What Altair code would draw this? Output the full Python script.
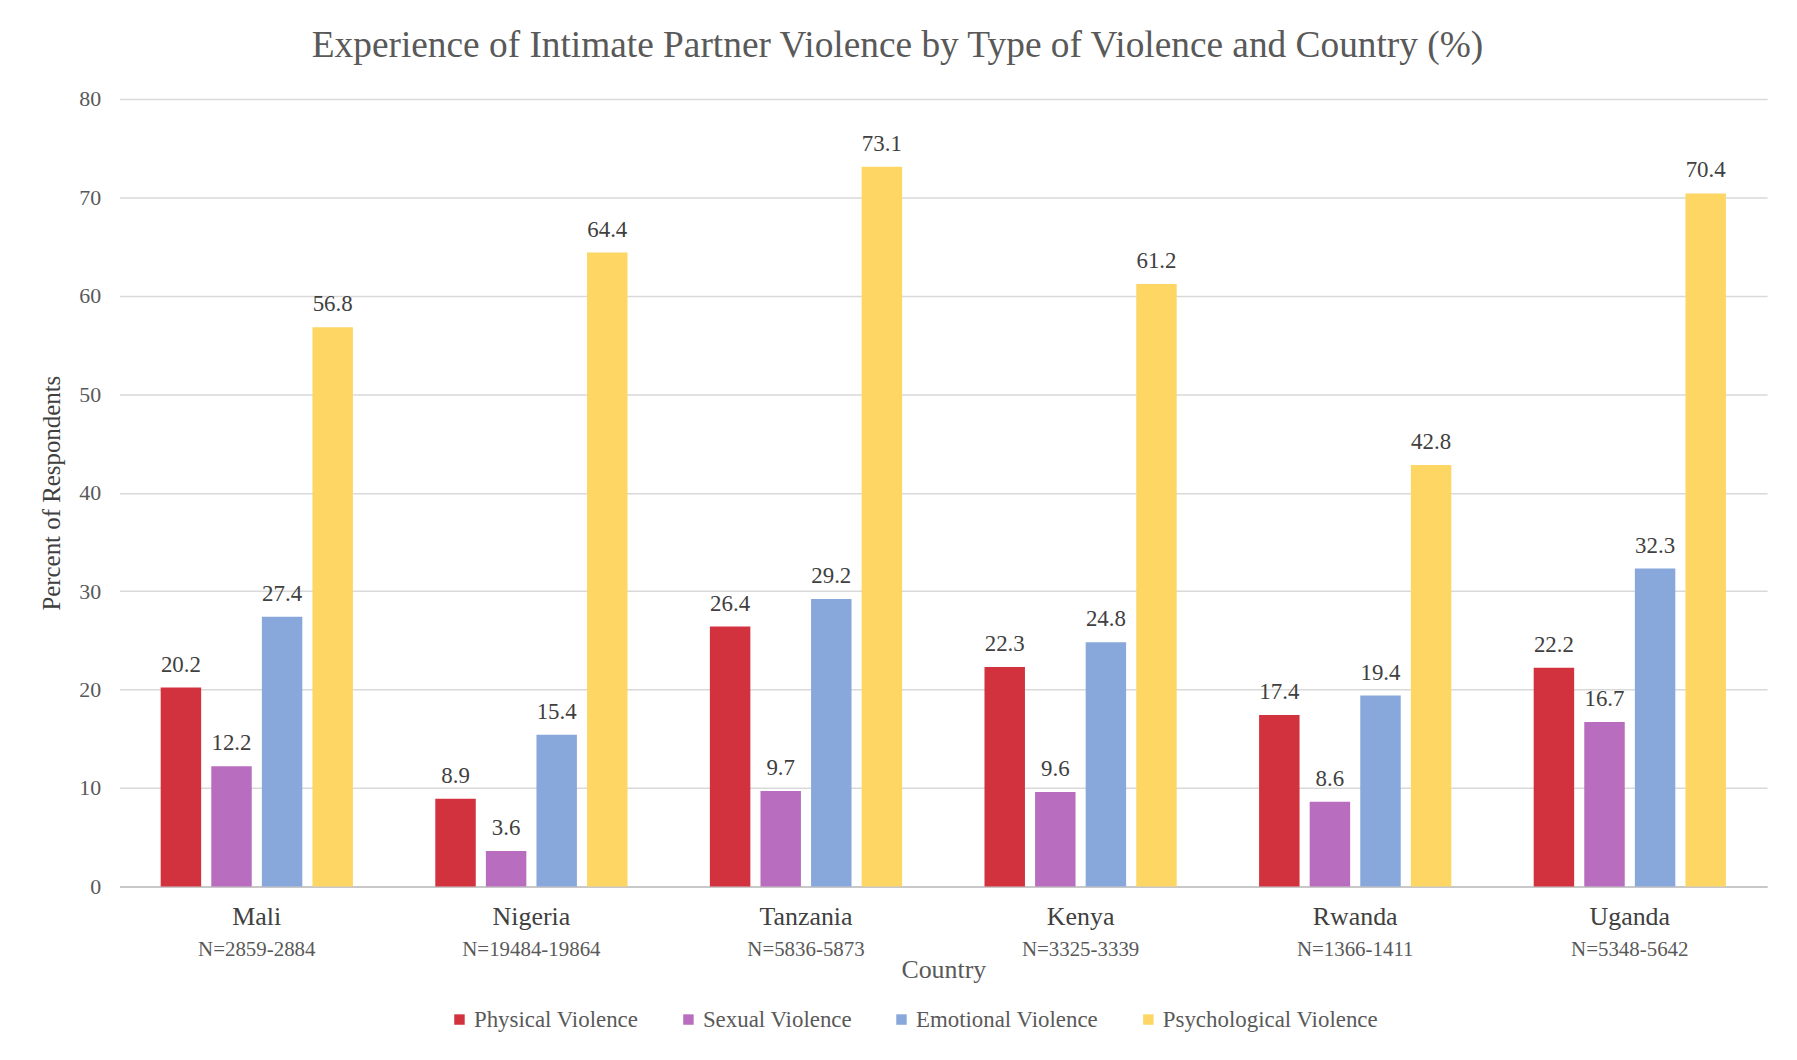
import altair as alt
import pandas as pd

countries = ["Mali", "Nigeria", "Tanzania", "Kenya", "Rwanda", "Uganda"]
sample_sizes = ["N=2859-2884", "N=19484-19864", "N=5836-5873",
                "N=3325-3339", "N=1366-1411", "N=5348-5642"]
types = ["Physical Violence", "Sexual Violence", "Emotional Violence", "Psychological Violence"]
physical = [20.2, 8.9, 26.4, 22.3, 17.4, 22.2]
sexual = [12.2, 3.6, 9.7, 9.6, 8.6, 16.7]
emotional = [27.4, 15.4, 29.2, 24.8, 19.4, 32.3]
psychological = [56.8, 64.4, 73.1, 61.2, 42.8, 70.4]
colors = ["#D1323E", "#B86DBE", "#88A8DC", "#FDD664"]

series = [physical, sexual, emotional, psychological]
keys = [f"{c}|{n}" for c, n in zip(countries, sample_sizes)]
rows = []
for t, vals in zip(types, series):
    for k, v in zip(keys, vals):
        rows.append({"key": k, "type": t, "value": v})
df = pd.DataFrame(rows)

FONT = "Liberation Serif"

x_scale = alt.Scale(paddingInner=0.3, paddingOuter=0.15)
xoff = alt.XOffset("type:N", sort=types, scale=alt.Scale(paddingInner=0.2, paddingOuter=0))
y_enc = alt.Y("value:Q", scale=alt.Scale(domain=[0, 80]),
              axis=alt.Axis(values=list(range(0, 81, 10)), title="Percent of Respondents",
                            titleFont=FONT, titleFontSize=25, titleFontWeight="normal",
                            titleColor="#404040", titlePadding=14,
                            labelFont=FONT, labelFontSize=22, labelColor="#595959",
                            labelPadding=19, domain=False, ticks=False,
                            gridColor="#D9D9D9", gridWidth=1.5))

bars = alt.Chart(df).mark_bar().encode(
    x=alt.X("key:N", sort=keys, scale=x_scale,
            axis=alt.Axis(orient="bottom", labelExpr="split(datum.label, '|')[0]",
                          labelAngle=0, labelFont=FONT, labelFontSize=26,
                          labelColor="#404040", labelPadding=17, ticks=False,
                          domainColor="#BFBFBF", domainWidth=1.5, title=None,
                          grid=False)),
    xOffset=xoff,
    y=y_enc,
    color=alt.Color("type:N", sort=types,
                    scale=alt.Scale(domain=types, range=colors),
                    legend=alt.Legend(orient="none", direction="horizontal",
                                      legendX=330, legendY=913, title=None,
                                      symbolType="square", symbolSize=110,
                                      symbolStrokeWidth=0,
                                      labelFont=FONT, labelFontSize=23,
                                      labelColor="#595959", columnPadding=38,
                                      labelOffset=3, labelLimit=0)),
)

labels = alt.Chart(df).mark_text(dy=-16, baseline="alphabetic", font=FONT,
                                 fontSize=23, color="#404040").encode(
    x=alt.X("key:N", sort=keys, scale=x_scale,
            axis=alt.Axis(orient="bottom", labelExpr="split(datum.label, '|')[1]",
                          labelAngle=0, labelFont=FONT, labelFontSize=21,
                          labelColor="#595959", labelPadding=52, ticks=False,
                          domain=False, grid=False,
                          title="Country", titleFont=FONT, titleFontSize=26,
                          titleFontWeight="normal", titleColor="#595959",
                          titlePadding=-2)),
    xOffset=xoff,
    y=alt.Y("value:Q"),
    text=alt.Text("value:Q", format=".1f"),
)

chart = alt.layer(bars, labels).resolve_axis(x="independent").properties(
    width=1655,
    height=791,
    padding={"left": 112, "top": 89, "right": 22, "bottom": 160},
    autosize=alt.AutoSizeParams(type="none"),
    title=alt.Title("Experience of Intimate Partner Violence by Type of Violence and Country (%)",
                    font=FONT, fontSize=37.5, fontWeight="normal", color="#595959",
                    anchor="middle", dx=-46, offset=24),
).configure(background="white", view=alt.ViewConfig(stroke=None))

chart.save("out.html", embed_options={"renderer": "svg", "actions": False})
